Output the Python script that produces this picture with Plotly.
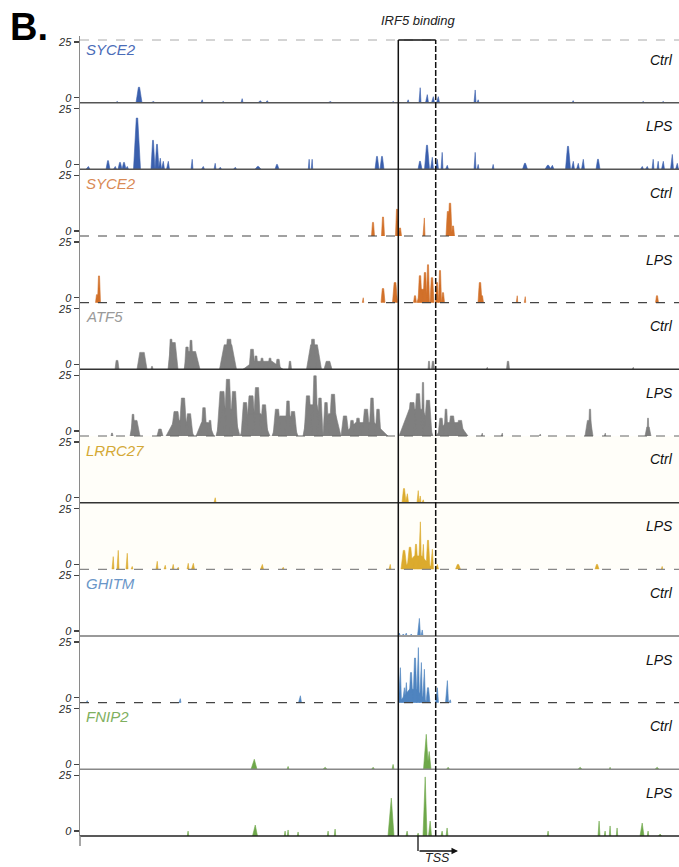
import plotly.graph_objects as go
from plotly.subplots import make_subplots

# ---------------- DATA ----------------
# each peak: (position, width, signal height)  -- positions in relative genomic bins
track_names = ["SYCE2", "", "SYCE2", "", "ATF5", "", "LRRC27", "", "GHITM", "", "FNIP2", ""]
conditions = ["Ctrl", "LPS"] * 6
tick_labels = ["0", "25"]

syce2_a_ctrl = [(117,3,0.5),(139,6,6.9),(153,4,0.5),(202,2,1.3),(223,3,0.5),(242,2,1.8),(260,4,0.9),
                (267,3,0.9),(330,4,0.5),(393,3,0.5),(408,2,1.3),(420,2,6.7),(427,3,3.6),(433,3,2.7),
                (438,3,2.7),(475,2,5.7),(478,2,1.3),(573,2,0.9),(643,3,0.5),(663,3,0.5)]
syce2_a_lps = [(88,4,1.3),(108,4,3.9),(115,3,1.3),(120,4,3.1),(124,4,3.1),(127,3,1.3),(137,7,23),
               (153,4,13),(157,4,11.2),(160,3,5),(163,3,3.6),(168,3,3.6),(192,2,4.5),(203,3,1.3),
               (215,2,2.7),(220,3,0.9),(235,3,0.9),(258,6,1.3),(277,4,2.2),(309,1.5,4.5),(312,1.5,4.5),
               (377,4,5.8),(382,4,5.8),(420,4,3.6),(427,5,10.8),(432,3,5.4),(437,3,4.5),(442,2,7.6),
               (447,3,1.8),(475,2,7.6),(478,2,2.2),(493,2,2.2),(525,5,2.7),(548,6,1.8),(552,4,1.8),
               (568,5,10.3),(573,3,3.6),(578,3,2.7),(583,3,4.5),(598,4,4.5),(642,3,1.3),(647,3,1.3),
               (653,2,4.5),(658,2,3.6),(663,3,3.6),(672,3,6.7),(677,3,2.7)]
syce2_b_ctrl = [(373,3,6.1),(383,3,8.5),(397,3,12),(400,3,3.6),(424,2,8.1),(448,4,11),(450,4,14.7),(453,3,4.5)]
syce2_b_lps = [(97,3,3.6),(99,3,12),(363,1.5,2.2),(383,4,6.3),(395,5,9),(415,3,3.1),(423,12,6),(420,4,12.1),
               (425,4,13.5),(428,3,17),(432,4,11.2),(437,3,9),(440,3,14.4),(443,3,4.5),(480,4,9),
               (482,3,3.1),(517,1.5,3.1),(525,1.5,2.7),(657,3,3.1)]
atf5_ctrl = [(117,4,4),(142,10,7.6),(152,2,1.3),(173,10,12),(171,4,13.5),(192,16,8),(191,4,13),
             (187,5,10),(228,17,11),(229,8,13.5),(263,40,3.6),(252,6,9),(256,4,6),(262,4,5),(270,4,5),
             (278,5,4.5),(290,3,3.6),(314,15,11),(313,6,13.5),(328,8,3.6),(429,2,3.6),(433,3,3.6),
             (487,1.5,0.9),(508,3,3.6),(633,1.5,0.9)]
atf5_lps = [(112,2,1.3),(135,10,7),(133,4,9.7),(160,6,3.1),(180,28,7),(176,10,11),(183,8,17),
            (189,8,10),(205,18,6),(204,6,12.7),(210,4,7),(228,24,12),(222,10,20),(228,8,25.4),(234,8,20),
            (255,30,10),(245,8,15),(251,10,18),(257,8,21.7),(264,8,14),(285,26,9),(277,8,12),(288,6,15.7),
            (293,8,11),(313,20,14),(308,8,18),(315,6,27),(320,6,17),(332,18,10),(326,6,15),(333,8,18.7),
            (365,46,6),(345,8,9),(352,6,7),(358,6,8),(366,8,12),(372,6,17),(378,6,12),
            (416,34,12),(412,10,15),(418,8,19),(423,3,24),(428,8,16),
            (452,32,6),(441,6,8),(446,4,12),(452,8,9),(460,8,7),(482,1.5,1.3),(502,1.5,1.3),
            (540,1.5,0.9),(589,8,7),(590,3,12),(605,1.5,1.3),(648,6,4),(648,2,8)]
lrrc27_ctrl = [(215,2,2.2),(404,4,6.3),(407,3,4),(418,2,5.4),(420,2,3),(423,2,1.3)]
lrrc27_lps = [(113,2,5.7),(118,2,8.5),(127,2,7.2),(132,2,1.3),(157,2,3.6),(165,2,1.8),(173,2,2.2),
              (178,2,0.9),(188,2,2.7),(193,3,2.7),(262,3,2.2),(283,2,0.9),(390,2,2.2),(418,30,6),
              (404,6,8.5),(410,6,9.9),(416,4,11.2),(420,3,21.3),(423,3,11.2),(428,4,13),(432,3,9),
              (437,3,2.2),(458,5,2.2),(597,4,2.2),(662,1.5,1.3)]
ghitm_ctrl = [(399,3,1.3),(403,3,0.9),(406,2,1.3),(411,2,0.9),(419,3,7.9),(422,2,2.7)]
ghitm_lps = [(87,2,0.9),(180,2,1.8),(300,3,3.1),(413,28,6),(400,3,15.7),(404,3,6.7),(406,3,9),
             (411,4,13.5),(415,4,20),(418,3,24.7),(421,3,18),(424,3,15),(428,4,6.7),(437,3,6.7),
             (447,3,9.9),(450,2,1.3)]
fnip2_ctrl = [(254,6,4.5),(288,2,1.3),(325,4,0.9),(373,3,0.9),(393,2,2.2),(426,5,15.7),(429,4,8),
              (448,3,0.9),(580,4,0.9),(610,1.5,0.9),(657,4,0.9)]
fnip2_lps = [(188,1.5,2.2),(255,5,4.9),(285,1.5,2.2),(288,1.5,2.7),(298,1.5,1.8),(328,1.5,2.2),
             (335,1.5,3.1),(391,6,17),(407,2,2.2),(418,2,1.3),(425,4,26.5),(430,3,6.7),(442,2,2.2),
             (447,2,3.6),(548,1.5,2.2),(599,2,6.7),(605,1.5,2.2),(610,1.5,4.5),(617,1.5,3.6),
             (642,4,5.8),(648,1.5,2.2),(660,3,0.9)]

irf5_region = (398.3, 435.7)
tss_position = 418

tracks = [syce2_a_ctrl, syce2_a_lps, syce2_b_ctrl, syce2_b_lps, atf5_ctrl, atf5_lps,
          lrrc27_ctrl, lrrc27_lps, ghitm_ctrl, ghitm_lps, fnip2_ctrl, fnip2_lps]

# ---------------- STYLE ----------------
fill_colors = ["#3a5fad", "#3a5fad", "#d2712a", "#d2712a", "#7f7f7f", "#7f7f7f",
               "#dcab2e", "#dcab2e", "#4f84c0", "#4f84c0", "#6ea84a", "#6ea84a"]
top_frac = [0.2, 0.2, 0.35, 0.35, 0.45, 0.4, 0.25, 0.25, 0.25, 0.25, 0.1, 0.1]
label_colors = {0: "#4a6cb8", 2: "#d98a55", 4: "#9a9a9a", 6: "#d4a935", 8: "#6a96c8", 10: "#80b060"}
base_styles = [("#555", "solid", 1.5), ("#555", "solid", 1.5), ("#444", "dash", 1.2), ("#444", "dash", 1.2),
               ("#333", "solid", 1.5), ("#666", "dash", 1.2), ("#333", "solid", 1.5), ("#888", "dash", 1.2),
               ("#999", "solid", 2), ("#444", "dash", 1.2), ("#888", "solid", 1.5), ("#222", "solid", 1.5)]
FONT = "Liberation Sans, Arial, sans-serif"
N = len(tracks)
W, H = 679, 867
TOP, BOT = 36, 836
track_px = (BOT - TOP) / N


def paper_y(py):
    return (BOT - py) / (BOT - TOP)


fig = make_subplots(rows=N, cols=1, shared_xaxes=True, vertical_spacing=0)

for i, (peaks, col) in enumerate(zip(tracks, fill_colors)):
    xs, ys = [], []
    tf = top_frac[i] / 2
    for c, w, h in peaks:
        xs += [c - w / 2, c - w * tf, c + w * tf, c + w / 2, c - w / 2, None]
        ys += [0, h, h, 0, 0, None]
    fig.add_trace(go.Scatter(x=xs, y=ys, mode="lines", fill="toself", fillcolor=col,
                             line=dict(color=col, width=0.6), hoverinfo="skip", showlegend=False),
                  row=i + 1, col=1)
    fig.update_yaxes(range=[0, 29.9], tickvals=[2.2, 27.2], ticktext=tick_labels,
                     showline=True, linecolor="#8a8a8a", linewidth=1.5, ticks="outside", ticklen=5,
                     tickcolor="#444", tickwidth=1.2, showgrid=False, zeroline=False,
                     tickfont=dict(family=FONT, size=11, color="#2a2a2a", style="italic"),
                     row=i + 1, col=1)
    fig.update_xaxes(range=[80, 679], visible=False, showgrid=False, row=i + 1, col=1)

shapes = []
# very faint cream background for LRRC27 tracks
shapes.append(dict(type="rect", xref="paper", yref="paper", x0=0, x1=1,
                   y0=paper_y(TOP + 8 * track_px), y1=paper_y(TOP + 6 * track_px),
                   fillcolor="#fffef9", line=dict(width=0), layer="below"))
# top dashed line
shapes.append(dict(type="line", xref="paper", yref="paper", x0=0, x1=1, y0=paper_y(40), y1=paper_y(40),
                   line=dict(color="#aaa", width=1, dash="dash")))
for i in range(N):
    c, d, wdt = base_styles[i]
    yb = paper_y(TOP + (i + 1) * track_px)
    shapes.append(dict(type="line", xref="paper", yref="paper", x0=0, x1=1, y0=yb, y1=yb,
                       line=dict(color=c, width=wdt, dash=d)))
# axis extension below
shapes.append(dict(type="line", xref="paper", yref="paper", x0=0, x1=0, y0=0, y1=paper_y(846),
                   line=dict(color="#8a8a8a", width=1.5)))
# IRF5 binding box
x0, x1 = irf5_region
shapes.append(dict(type="line", xref="x", yref="paper", x0=x0, x1=x0, y0=0, y1=paper_y(40),
                   line=dict(color="#111", width=1.5)))
shapes.append(dict(type="line", xref="x", yref="paper", x0=x1, x1=x1, y0=0, y1=paper_y(40),
                   line=dict(color="#111", width=1.5, dash="6px,2px")))
shapes.append(dict(type="line", xref="x", yref="paper", x0=x0, x1=x1, y0=paper_y(40), y1=paper_y(40),
                   line=dict(color="#111", width=1.5)))
# TSS marker
shapes.append(dict(type="line", xref="x", yref="paper", x0=tss_position, x1=tss_position,
                   y0=paper_y(836), y1=paper_y(851), line=dict(color="#111", width=1.3)))

annotations = []
annotations.append(dict(x=tss_position + 40, y=paper_y(851), xref="x", yref="paper", ax=-40, ay=0,
                        text="", showarrow=True, arrowhead=2, arrowsize=1, arrowwidth=1.3,
                        arrowcolor="#111"))
annotations.append(dict(x=437, y=paper_y(858), xref="x", yref="paper", text="TSS", showarrow=False,
                        xanchor="center", yanchor="middle",
                        font=dict(family=FONT, size=12.5, color="#222", style="italic")))
annotations.append(dict(x=418, y=paper_y(21), xref="x", yref="paper", text="IRF5 binding", showarrow=False,
                        xanchor="center", yanchor="middle",
                        font=dict(family=FONT, size=13, color="#222", style="italic")))
annotations.append(dict(x=(29 - 80) / (W - 80), y=paper_y(27), xref="paper", yref="paper", text="<b>B.</b>",
                        showarrow=False, xanchor="center", yanchor="middle",
                        font=dict(family=FONT, size=38, color="#000")))
for i in range(N):
    top = TOP + i * track_px
    if track_names[i]:
        annotations.append(dict(x=(84 - 80) / (W - 80), y=paper_y(top + 14), xref="paper", yref="paper",
                                text=track_names[i], showarrow=False, xanchor="left", yanchor="middle",
                                font=dict(family=FONT, size=15, color=label_colors[i], style="italic")))
    annotations.append(dict(x=1, y=paper_y(top + 23.5), xref="paper", yref="paper", text=conditions[i],
                            showarrow=False, xanchor="right", yanchor="middle", xshift=-4,
                            font=dict(family=FONT, size=14, color="#111", style="italic")))

fig.update_layout(width=W, height=H, margin=dict(l=80, r=0, t=TOP, b=H - BOT),
                  plot_bgcolor="rgba(0,0,0,0)", paper_bgcolor="white",
                  shapes=shapes, annotations=annotations, showlegend=False)

fig.write_html("out.html", config={"displayModeBar": False, "staticPlot": True},
               post_script="document.body.style.margin='0';document.body.style.overflow='hidden';")
